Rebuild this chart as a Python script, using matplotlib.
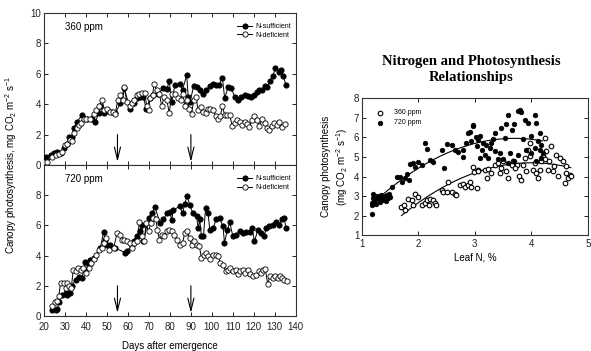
import matplotlib
matplotlib.use("Agg")
import matplotlib.pyplot as plt
import numpy as np

plt.rcParams['font.family'] = ['Liberation Sans', 'DejaVu Sans']
plt.rcParams['mathtext.fontset'] = 'custom'
plt.rcParams['mathtext.rm'] = 'Liberation Sans'
plt.rcParams['mathtext.it'] = 'Liberation Sans'

# ---------------- 360 ppm (top panel) ----------------
top_suf_days = [20.8,23.2,24.7,26.0,27.9,29.5,31.0,31.8,33.4,34.2,35.8,38.2,40.5,42.9,44.5,46.0,46.9,48.4,50.3,52.4,
                54.0,56.3,58.2,61.0,62.7,64.2,65.8,67.4,68.8,70.5,72.1,74.5,76.9,78.5,79.7,80.8,82.4,84.8,86.0,88.0,
                88.7,89.5,91.4,93.0,94.2,95.8,97.4,99.0,100.6,101.8,103.4,105.0,106.1,107.7,109.3,110.8,112.4,114.0,
                115.6,117.2,118.7,120.3,121.4,122.4,124.0,125.1,126.3,127.7,129.0,130.3,131.8,133.0,134.1,135.3]
top_suf_vals = [0.55,0.65,0.77,0.88,0.77,1.1,1.4,1.85,1.85,2.4,2.85,3.3,3.05,3.05,2.8,3.4,3.85,3.4,3.55,3.5,
                3.4,4.05,5.05,3.7,4.05,4.4,4.5,4.45,3.65,4.4,4.6,4.7,5.05,5.0,5.5,4.15,5.25,5.35,4.95,5.9,
                4.5,4.15,5.2,5.15,4.95,4.7,4.95,5.2,5.35,5.25,5.25,5.75,4.4,5.1,5.05,4.5,4.3,4.5,
                4.6,4.55,4.5,4.6,4.8,4.95,4.95,5.2,5.1,5.5,5.85,6.35,6.15,6.25,5.85,5.25]

top_def_days = [20.3,21.6,24.0,25.5,27.1,28.7,29.8,31.0,32.3,33.4,34.5,35.5,36.6,37.7,39.0,40.2,41.8,43.7,45.0,46.2,
                47.6,48.8,50.0,51.3,52.9,54.0,55.1,56.3,57.6,58.2,59.5,60.8,61.9,63.0,64.2,65.5,66.6,67.9,69.0,69.8,
                70.5,71.8,72.4,73.7,75.0,76.1,77.2,78.5,79.7,80.8,82.4,84.0,85.1,86.0,87.1,88.2,89.2,90.3,91.4,92.4,
                93.5,94.6,95.8,97.1,98.2,99.3,100.6,101.8,102.9,104.0,105.0,106.1,107.2,108.5,109.7,110.8,111.9,113.2,
                114.5,115.6,116.7,117.9,119.2,120.3,121.4,122.7,124.0,125.1,126.2,127.4,128.7,129.8,130.9,132.2,133.4,134.7]
top_def_vals = [0.18,0.22,0.55,0.65,0.72,0.88,1.3,1.4,1.65,1.55,2.1,2.4,2.65,2.75,3.05,3.05,3.05,3.35,3.6,3.85,
                4.3,3.6,3.7,3.5,3.5,3.35,4.3,4.6,4.3,5.1,4.15,3.85,4.05,4.3,4.6,4.7,4.75,4.75,3.85,3.6,
                4.4,4.6,5.35,4.95,4.7,3.85,4.5,4.3,3.4,4.7,4.7,4.4,4.3,4.7,3.9,4.3,3.7,3.35,4.3,4.5,
                3.6,3.8,3.5,3.45,3.65,3.65,3.6,3.2,3.05,3.2,3.85,3.3,3.3,3.3,2.55,2.75,2.95,2.85,
                2.65,2.8,2.7,2.5,2.95,3.2,2.95,2.55,3.05,2.75,2.4,2.3,2.55,2.75,2.65,2.85,2.5,2.7]

# ---------------- 720 ppm (bottom panel) ----------------
bot_suf_days = [24.0,25.5,26.3,27.0,28.7,30.3,31.0,32.6,33.4,35.0,36.6,38.0,39.0,39.7,41.3,42.0,43.7,46.8,48.4,49.2,
                50.0,51.6,54.0,58.7,59.5,62.0,62.7,64.2,65.8,66.6,67.4,69.8,71.3,72.9,75.3,76.9,78.5,80.0,80.8,81.6,
                84.8,86.0,87.1,88.2,89.5,91.0,92.7,93.5,94.2,95.0,96.0,97.0,98.2,99.0,100.6,102.0,103.7,105.3,106.0,
                107.4,108.5,110.0,111.6,113.2,114.8,116.4,118.0,119.2,120.3,121.9,123.5,125.0,125.8,127.4,129.0,
                130.6,132.2,133.4,134.5,135.3]
bot_suf_vals = [0.4,0.4,0.45,0.9,1.4,1.55,1.4,1.5,2.0,2.4,2.6,2.5,3.1,3.55,3.4,3.7,3.85,4.5,5.55,5.05,
                4.7,4.7,4.5,4.2,4.3,4.7,4.95,5.3,5.6,6.05,4.95,6.5,6.8,7.2,6.15,6.4,6.8,6.9,6.35,7.0,
                7.3,6.8,7.45,7.95,7.35,6.8,6.6,5.8,6.4,5.3,5.3,7.15,6.8,5.7,5.8,6.4,6.5,5.95,4.85,
                5.7,6.2,5.3,5.4,5.6,5.5,5.55,5.55,5.8,4.95,5.7,5.5,5.3,5.8,5.95,6.05,
                6.25,6.05,6.4,6.5,5.8]

bot_def_days = [24.0,25.0,26.3,27.0,27.9,29.5,30.3,31.0,31.8,33.0,33.9,35.0,36.1,37.4,38.6,40.2,41.3,42.4,43.7,44.9,
                46.0,47.6,48.8,49.7,50.8,53.2,54.8,56.0,57.1,58.2,59.5,60.8,61.9,62.7,64.2,65.5,66.6,67.7,68.7,69.8,
                70.9,72.1,73.4,74.0,75.0,76.1,77.2,78.5,79.7,80.8,81.9,83.5,84.8,86.0,87.1,88.2,89.5,90.3,91.6,92.7,
                94.0,95.0,96.1,97.4,98.2,99.3,100.6,101.8,102.9,104.0,105.3,106.6,107.7,108.8,110.0,111.3,112.4,113.5,
                114.8,116.0,117.2,118.3,119.5,120.8,122.4,123.5,124.6,125.5,126.6,127.7,129.0,130.3,131.4,132.5,133.4,
                134.5,135.6]
bot_def_vals = [0.65,0.9,1.0,1.3,2.2,2.2,1.85,2.2,2.0,1.85,3.05,2.95,3.2,3.05,3.2,2.85,3.2,3.5,3.8,4.05,
                4.4,4.5,4.85,5.15,4.4,4.5,5.5,5.4,5.05,5.05,4.95,4.85,4.5,4.85,4.95,6.25,5.3,4.95,6.15,5.6,
                6.15,6.5,6.4,5.7,5.05,5.4,5.3,5.6,5.7,5.6,5.4,5.05,4.7,4.85,5.5,5.6,5.15,4.7,4.95,4.7,
                4.65,3.85,4.05,4.15,3.95,3.8,4.05,4.05,4.0,3.5,3.4,2.95,3.05,3.2,2.95,3.05,2.75,2.95,
                3.05,2.85,3.05,2.75,2.65,2.7,2.95,2.85,3.05,3.1,2.1,2.65,2.55,2.65,2.55,2.65,2.55,
                2.4,2.3]

arrow_days = [55, 90]

# ---------------- Leaf N scatter (right panel) ----------------
n720 = [1.17,1.18,1.19,1.20,1.22,1.24,1.26,1.28,1.30,1.32,1.34,1.36,1.38,1.40,1.42,1.44,1.46,1.48,1.50,1.18,
        1.53,1.62,1.68,1.71,1.76,1.79,1.83,1.85,1.91,1.94,2.00,2.06,2.12,2.16,2.20,2.26,2.42,2.46,2.51,2.60,
        2.64,2.70,2.79,2.88,2.96,2.93,3.02,3.05,
        3.59,3.76,3.82,3.80,3.88,3.94,4.06,4.09,3.56,3.47,3.70,3.65,3.35,2.97,2.91,4.00,4.15,3.09,3.32,3.53,
        3.85,4.12,4.18,2.85,2.79,3.03,3.15,3.20,3.26,3.29,3.12,3.18,3.24,3.09,3.35,3.44,3.50,3.62,3.70,3.76,
        3.91,4.00,4.06,4.15,4.21,4.18,4.09,3.41,3.59]
p720 = [2.55,2.65,3.10,2.90,2.75,2.60,3.00,2.85,2.95,2.70,3.05,2.80,2.95,3.00,2.75,3.05,2.90,3.10,2.95,2.10,
        3.47,3.98,4.00,3.72,3.90,4.15,3.80,4.66,4.70,4.50,4.75,4.58,5.72,5.43,4.83,4.75,5.38,4.41,5.68,5.60,
        5.35,5.25,5.00,6.20,6.62,5.80,6.00,5.85,
        7.17,7.34,7.29,7.40,6.90,6.75,7.17,6.75,6.66,6.50,6.66,6.40,6.23,6.60,6.30,6.06,6.23,6.06,5.90,5.98,
        5.90,5.80,5.63,5.72,5.38,5.55,5.72,5.63,5.46,5.72,5.38,5.12,4.95,4.95,5.30,5.20,4.87,5.20,4.78,5.12,
        5.38,5.20,5.46,5.38,5.20,4.95,4.78,4.87,4.70]

n360 = [1.70,1.76,1.74,1.82,1.88,1.91,1.94,2.00,2.06,2.12,2.15,2.18,2.21,2.26,2.29,2.32,2.41,2.44,2.50,2.53,
        2.59,2.64,2.67,2.73,2.79,2.82,2.88,2.91,2.94,2.96,2.99,3.03,3.06,3.18,3.24,3.21,3.35,3.41,3.47,3.50,
        3.56,3.59,3.65,3.68,3.74,3.79,3.82,3.85,3.88,3.94,3.97,3.97,4.03,4.06,4.09,4.12,4.15,4.21,4.24,4.24,
        4.26,4.29,4.35,4.38,4.44,4.47,4.50,4.56,4.62,4.59,4.65,4.68,4.71,4.62,4.41,4.32,4.18,3.91,3.71,3.29,
        3.44,3.05]
p360 = [2.45,2.28,2.53,2.87,2.79,2.53,3.12,2.96,2.53,2.62,2.79,2.53,2.87,2.79,2.62,2.53,3.30,3.20,3.20,3.72,
        3.20,3.12,3.04,3.55,3.64,3.47,3.55,3.72,3.47,4.49,4.24,3.42,4.35,4.35,4.39,3.93,4.61,4.70,4.44,4.78,
        4.27,3.93,4.61,4.78,4.61,4.01,3.84,4.61,4.95,5.38,5.72,5.04,4.35,4.70,4.18,3.93,4.35,5.04,5.98,4.87,
        5.30,4.35,5.55,4.27,5.12,4.01,4.95,4.78,4.53,3.67,3.93,4.10,4.01,4.18,4.53,4.78,4.78,4.27,4.44,4.18,
        4.18,4.30]

# fitted quadratic curves: (peak N, peak P, curvature, N start, N end)
fit720 = (3.7, 5.95, 0.528, 1.2, 4.2)
fit360 = (4.0, 4.70, 0.51, 1.7, 4.7)

# ---------------- Figure ----------------
fig = plt.figure(figsize=(5.91, 3.51), dpi=100)
ax_top = fig.add_axes([0.0745, 0.530, 0.426, 0.433])
ax_bot = fig.add_axes([0.0745, 0.0997, 0.426, 0.430])
ax_r = fig.add_axes([0.6125, 0.330, 0.382, 0.390])

spine_c = '#333333'
ms = 3.8

def style(ax):
    for s in ax.spines.values():
        s.set_linewidth(0.8)
        s.set_color(spine_c)
    ax.tick_params(direction='in', top=True, right=True, length=3, width=0.7,
                   labelsize=7, colors='#222222', pad=2)
    ax.tick_params(axis='x', pad=4)

for ax, (sd, sv, dd, dv, lab) in zip(
        [ax_top, ax_bot],
        [(top_suf_days, top_suf_vals, top_def_days, top_def_vals, '360 ppm'),
         (bot_suf_days, bot_suf_vals, bot_def_days, bot_def_vals, '720 ppm')]):
    ax.plot(sd, sv, '-o', color='black', lw=0.7, ms=ms, mec='black', mew=0.6,
            label='N-sufficient', zorder=3)
    ax.plot(dd, dv, '-o', color='black', lw=0.7, ms=ms, mfc='white', mec='black', mew=0.6,
            label='N-deficient', zorder=4)
    ax.set_xlim(20, 140)
    ax.set_ylim(0, 10)
    ax.set_xticks(np.arange(20, 141, 10))
    style(ax)
    ax.text(0.085, 0.91, lab, transform=ax.transAxes, fontsize=7, va='center', ha='left')
    ax.legend(loc='upper right', bbox_to_anchor=(1.0, 0.965), fontsize=5, frameon=False,
              handlelength=2.2, handletextpad=0.4, labelspacing=0.25, borderaxespad=0.3)
    for d in arrow_days:
        ax.annotate('', xy=(d, 0.2), xytext=(d, 2.0),
                    arrowprops=dict(arrowstyle='->,head_length=0.9,head_width=0.22',
                                    lw=0.8, color='black', shrinkA=0, shrinkB=0))

ax_top.set_yticks([0, 2, 4, 6, 8, 10])
ax_top.tick_params(labelbottom=False)
ax_bot.set_yticks([0, 2, 4, 6, 8, 10])
ax_bot.set_yticklabels(['0', '2', '4', '6', '8', ''])
ax_bot.set_xlabel('Days after emergence', fontsize=7, labelpad=7)
fig.text(0.018, 0.530, 'Canopy photosynthesis, mg CO$_2$ m$^{-2}$ s$^{-1}$', rotation=90,
         fontsize=7, ha='center', va='center')

# right panel
ax_r.scatter(n360, p360, s=11, facecolor='white', edgecolor='black', linewidths=0.8,
             label='360 ppm', zorder=3)
ax_r.scatter(n720, p720, s=11, facecolor='black', edgecolor='black', linewidths=0.5,
             label='720 ppm', zorder=3)
for (n0, p0, c, a, b) in (fit720, fit360):
    nn = np.linspace(a, b, 100)
    ax_r.plot(nn, p0 - c * (nn - n0) ** 2, color='black', lw=0.8, zorder=2)
ax_r.set_xlim(1, 5)
ax_r.set_ylim(1, 8)
ax_r.set_xticks([1, 2, 3, 4, 5])
ax_r.set_yticks(range(1, 9))
style(ax_r)
ax_r.tick_params(axis='x', pad=3)
ax_r.legend(loc='upper left', bbox_to_anchor=(0.035, 0.97), fontsize=5, frameon=False,
            handletextpad=1.4, labelspacing=0.45, borderaxespad=0.6, handlelength=1.0)
ax_r.set_xlabel('Leaf N, %', fontsize=7, labelpad=2)
ax_r.set_ylabel('Canopy photosynthesis\n(mg CO$_2$ m$^{-2}$ s$^{-1}$)', fontsize=7, labelpad=3)
fig.text(0.797, 0.803, 'Nitrogen and Photosynthesis\nRelationships', ha='center', va='center',
         fontsize=10.5, fontweight='bold', family=['Liberation Serif', 'DejaVu Serif'],
         linespacing=1.3)

fig.savefig('out.png', dpi=100)
